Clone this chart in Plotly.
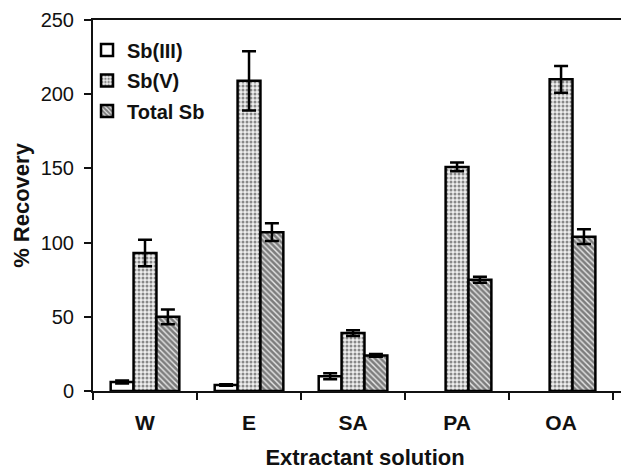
import plotly.graph_objects as go

categories = ["W", "E", "SA", "PA", "OA"]
sb3 = [6, 4, 10, None, None]
sb3_err = [1, 0.5, 2, 0, 0]
sb5 = [93, 209, 39, 151, 210]
sb5_err = [9, 20, 2, 3, 9]
total = [50, 107, 24, 75, 104]
total_err = [5, 6, 1, 2, 5]

FONT = "Liberation Sans, Arial, sans-serif"

def err(vals):
    return dict(type="data", array=vals, visible=True, color="black",
                thickness=2.5, width=7)

fig = go.Figure()
fig.add_trace(go.Bar(
    name="Sb(III)", x=categories, y=sb3, error_y=err(sb3_err),
    marker=dict(color="white", line=dict(color="black", width=2.5)),
    legendgroup="a"))
fig.add_trace(go.Bar(
    name="Sb(V)", x=categories, y=sb5, error_y=err(sb5_err),
    marker=dict(color="white", line=dict(color="black", width=2.5),
                pattern=dict(shape=".", fgcolor="#222", bgcolor="#eeeeee",
                             size=4, solidity=0.45)),
    legendgroup="b"))
fig.add_trace(go.Bar(
    name="Total Sb", x=categories, y=total, error_y=err(total_err),
    marker=dict(color="white", line=dict(color="black", width=2.5),
                pattern=dict(shape="\\", fgcolor="#111", bgcolor="#e8e8e8",
                             size=4, solidity=0.65)),
    legendgroup="c"))

fig.update_layout(
    width=629, height=469,
    margin=dict(l=85, r=0, t=12, b=86),
    paper_bgcolor="white", plot_bgcolor="white",
    barmode="group", bargap=0.34, bargroupgap=0.0,
    font=dict(family=FONT, color="#111", size=20),
    legend=dict(x=-0.011, y=0.972, xanchor="left", yanchor="top",
                bgcolor="rgba(0,0,0,0)", font=dict(size=20),
                itemwidth=30, tracegroupgap=1.5),
    xaxis=dict(
        type="category", range=[-0.5, 4.73], automargin=False,
        showline=True, linecolor="#111", linewidth=2, mirror=True,
        ticks="outside", tickson="boundaries", ticklen=7, tickwidth=2,
        tickcolor="#111", showgrid=False, ticklabelstandoff=12,
        tickfont=dict(size=21), tickprefix="<b>", ticksuffix="</b>",
        title=dict(text="<b>Extractant solution</b>", font=dict(size=22),
                   standoff=16),
    ),
    yaxis=dict(
        range=[0, 250], tickvals=[0, 50, 100, 150, 200, 250],
        automargin=False,
        showline=True, linecolor="#111", linewidth=2,
        ticks="outside", ticklen=7, tickwidth=2, tickcolor="#111",
        showgrid=False, zeroline=False, ticklabelstandoff=6,
        tickfont=dict(size=20), tickprefix="<b>", ticksuffix="</b>",
        title=dict(text="<b>% Recovery</b>", font=dict(size=22), standoff=5),
    ),
)
for tr in fig.data:
    tr.name = "<b>" + tr.name + "</b>"

fig.write_html("out.html")
